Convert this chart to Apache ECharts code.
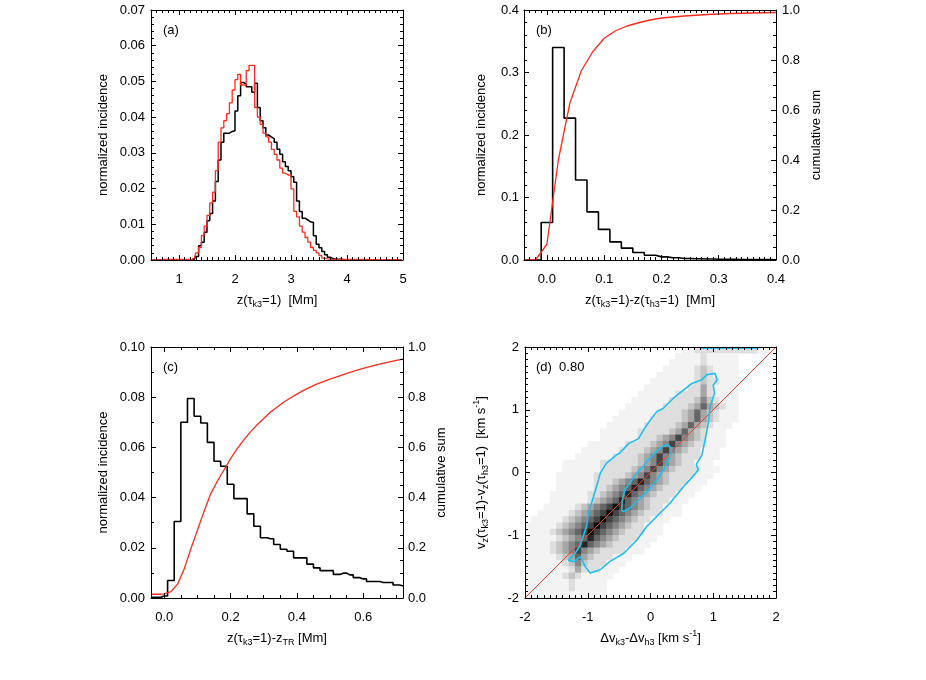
<!DOCTYPE html>
<html>
<head>
<meta charset="utf-8">
<script src="https://cdn.jsdelivr.net/npm/echarts@6/dist/echarts.min.js"></script>
<style>
  html, body { margin: 0; padding: 0; background: #fff; }
  #chart { width: 926px; height: 680px; }
</style>
</head>
<body>
<div id="chart"></div>
<script>
// ---- (a) histograms of z(tau_k3=1), bins of 0.05 Mm starting at 0.5 ----
var aStart = 0.5, aWidth = 0.05;
var aBlack = [
  0, 0, 0, 0, 0, 0, 0, 0, 0, 0, 0, 0, 0, 0, 0,
  0.0002, 0.001, 0.004, 0.005, 0.0078, 0.011, 0.013, 0.0165, 0.022, 0.028,
  0.033, 0.0355, 0.0355, 0.036, 0.0362, 0.0417, 0.046, 0.0497, 0.0493, 0.0485,
  0.0485, 0.047, 0.0495, 0.0427, 0.039, 0.037, 0.035, 0.0345, 0.034, 0.033,
  0.031, 0.0296, 0.0275, 0.0262, 0.025, 0.0233, 0.0218, 0.0165, 0.0136, 0.0117,
  0.0112, 0.0107, 0.0105, 0.0068, 0.0044, 0.0034, 0.0024, 0.0015, 0.0008, 0.0004,
  0.0002, 0.0002, 0.0002, 0.0001, 0.0001, 0.0001, 0.0001, 0.0001, 0.0001,
  0, 0, 0, 0, 0, 0, 0, 0, 0, 0, 0, 0, 0, 0, 0, 0
];
var aRed = [
  0, 0, 0, 0,
  0.0002, 0.0002, 0.0002, 0.0002, 0.0002, 0.0002, 0.0002, 0.0002, 0.0002, 0.0002, 0.0002,
  0.0005, 0.002, 0.0035, 0.0068, 0.0095, 0.0125, 0.016, 0.019, 0.025, 0.033,
  0.037, 0.039, 0.041, 0.044, 0.0476, 0.0505, 0.052, 0.049, 0.049, 0.053,
  0.0545, 0.0545, 0.0427, 0.040, 0.038, 0.0355, 0.0345, 0.033, 0.031, 0.0296,
  0.028, 0.0257, 0.0243, 0.0238, 0.0238, 0.0199, 0.0136, 0.0121, 0.0095, 0.0078,
  0.0063, 0.005, 0.0035, 0.0027, 0.002, 0.0012, 0.0005, 0.0003,
  0.0002, 0.0002, 0.0002, 0.0002, 0.0002, 0.0002, 0.0002, 0.0002, 0.0002, 0.0002,
  0.0002, 0.0002, 0.0002, 0.0002, 0.0002,
  0.0001, 0.0001, 0.0001, 0.0001, 0.0001, 0.0001, 0.0001, 0.0001, 0.0001, 0.0001, 0.0001, 0.0001
];

// ---- (b) z(k3)-z(h3), bin centres every 0.02 Mm from -0.04 ----
var bStart = -0.04, bWidth = 0.02;
var bBlack = [0, 0, 0.060, 0.340, 0.227, 0.128, 0.077, 0.049, 0.029, 0.019, 0.012, 0.0075,
  0.005, 0.0035, 0.0025, 0.002, 0.0015, 0.0012, 0.001, 0.0008, 0.0007, 0.0006, 0.0005];
var bCum = [0, 0, 0.063, 0.40, 0.627, 0.757, 0.833, 0.887, 0.917, 0.936, 0.949, 0.96,
  0.968, 0.972, 0.976, 0.979, 0.982, 0.984, 0.986, 0.987, 0.988, 0.989, 0.99];

// ---- (c) z(k3)-z_TR, bin centres every 0.02 Mm from -0.04 ----
var cStart = -0.04, cWidth = 0.02;
var cBlack = [0.0003, 0.0003, 0.0008, 0.007, 0.0305, 0.070, 0.0795, 0.0724, 0.0697, 0.062,
  0.0545, 0.0525, 0.0453, 0.0396, 0.0396, 0.0335, 0.0286, 0.024, 0.0236, 0.0213,
  0.0194, 0.0186, 0.016, 0.016, 0.0135, 0.012, 0.0109, 0.0109, 0.0094, 0.0099,
  0.0092, 0.0081, 0.0076, 0.0066, 0.0066, 0.0062, 0.0062, 0.0052, 0.0048];
var cCum = [0.015, 0.015, 0.016, 0.025, 0.055, 0.115, 0.195, 0.27, 0.345, 0.415,
  0.465, 0.51, 0.555, 0.595, 0.63, 0.662, 0.69, 0.715, 0.74, 0.76,
  0.78, 0.797, 0.812, 0.827, 0.84, 0.852, 0.862, 0.872, 0.881, 0.89,
  0.899, 0.907, 0.915, 0.922, 0.929, 0.935, 0.941, 0.947, 0.952];

// ---- (d) 2D histogram, 40x40 cells of 0.1 km/s, grey level 0..9, top row first ----
var dHeat = [
  "0000000000000000000000000112222222222110",
  "0000000000000000000000001111211111000000",
  "0000000000000000000000011111211111000000",
  "0000000000000000000000111112321111000000",
  "0000000000000000000001111112321111000000",
  "0000000000000000000011111112322111000000",
  "0000000000000000000111111122421111000000",
  "0000000000000000001111112222421111000000",
  "0000000000000000011111122223532111000000",
  "0000000000000000111111222234643211000000",
  "0000000000000001111112222346432111000000",
  "0000000000000011111122222346432111000000",
  "0000000000000111111222223464321110000000",
  "0000000000001111112222234643211100000000",
  "0000000000001111112223457543211100000000",
  "0000000000111111222234575432211100000000",
  "0000000001111112222345754322111000000000",
  "0000000011111122223457543222111000000000",
  "0000001111112222223457543221110000000000",
  "0000001111112222234575432222111000000000",
  "0000011111122222345754322221110000000000",
  "0000011111122234568654322211100000000000",
  "0000011111122345686543222111000000000000",
  "0000111111223456865432221110000000000000",
  "0000111111234568654322211100000000000000",
  "0001111123456797654322111000000000000000",
  "0011111234567976543222111000000000000000",
  "0111112345679765432211100000000000000000",
  "1111123456797654322111000000000000000000",
  "1111234567976543222111000000000000000000",
  "1111123456865432221110000000000000000000",
  "1111234568654322211100000000000000000000",
  "1111234575432222111000000000000000000000",
  "1111123464322211100000000000000000000000",
  "1111112353222111000000000000000000000000",
  "1111111242221110000000000000000000000000",
  "1111112321111100000000000000000000000000",
  "1111111211111000000000000000000000000000",
  "1111111211111000000000000000000000000000",
  "1111111111111000000000000000000000000000"
];
var dOuter = [[0.66, 1.42], [0.82, 1.48], [0.9, 1.56], [1.03, 1.58], [1.06, 1.47], [1.0, 1.39],
  [1.02, 1.26], [0.95, 1.05], [0.92, 0.78], [0.87, 0.52], [0.82, 0.28], [0.73, 0.13],
  [0.76, 0.04], [0.67, -0.07], [0.52, -0.23], [0.31, -0.49], [0.15, -0.65], [-0.06, -0.86],
  [-0.22, -1.08], [-0.43, -1.29], [-0.65, -1.42], [-0.8, -1.55], [-0.96, -1.6], [-1.04, -1.5],
  [-1.12, -1.34], [-1.22, -1.42], [-1.31, -1.4], [-1.2, -1.29], [-1.12, -1.16], [-1.02, -0.86],
  [-0.99, -0.65], [-0.91, -0.39], [-0.83, -0.12], [-0.8, -0.01], [-0.7, 0.15], [-0.54, 0.28],
  [-0.49, 0.31], [-0.35, 0.46], [-0.19, 0.54], [-0.11, 0.68], [0.0, 0.84], [0.1, 0.97],
  [0.2, 1.02], [0.36, 1.18], [0.52, 1.31], [0.66, 1.42]];
var dInner = [[-0.46, -0.61], [-0.45, -0.45], [-0.41, -0.28], [-0.32, -0.15], [-0.22, -0.01],
  [-0.1, 0.12], [-0.01, 0.23], [0.1, 0.34], [0.18, 0.41], [0.28, 0.44], [0.34, 0.38],
  [0.31, 0.25], [0.22, 0.06], [0.1, -0.12], [-0.01, -0.26], [-0.11, -0.36], [-0.22, -0.47],
  [-0.33, -0.57], [-0.43, -0.62], [-0.46, -0.61]];
var dTopEdge = [[0.79, 1.985], [1.72, 1.985]];
var dDiagonal = [[-2, -2], [2, 2]];
var dCorr = "0.80";

// ---- tick labels ----
var aXTicks = [1, 2, 3, 4, 5];
var aYTicks = [0, 0.01, 0.02, 0.03, 0.04, 0.05, 0.06, 0.07];
var bXTicks = [0, 0.1, 0.2, 0.3, 0.4];
var bYTicks = [0, 0.1, 0.2, 0.3, 0.4];
var cXTicks = [0, 0.2, 0.4, 0.6];
var cYTicks = [0, 0.02, 0.04, 0.06, 0.08, 0.10];
var cumTicks = [0, 0.2, 0.4, 0.6, 0.8, 1.0];
var dTicks = [-2, -1, 0, 1, 2];

var FONT = '"Liberation Sans", Arial, Helvetica, sans-serif';
var RED = '#ff2a1a';
var CYAN = '#22bfee';
var GRAYS = ['#ffffff', '#f3f3f3', '#dedede', '#c4c4c4', '#a6a6a6', '#878787', '#666666', '#444444', '#262626', '#0a0a0a'];

var RICH = {
  n: { fontFamily: FONT, fontSize: 13, color: '#000', lineHeight: 18, verticalAlign: 'middle' },
  s: { fontFamily: FONT, fontSize: 9, color: '#000', lineHeight: 9, verticalAlign: 'bottom' },
  p: { fontFamily: FONT, fontSize: 9, color: '#000', lineHeight: 9, verticalAlign: 'top' }
};

function seq(a, b, step) {
  var out = [], n = Math.round((b - a) / step);
  for (var i = 0; i <= n; i++) out.push(+(a + i * step).toFixed(6));
  return out;
}
function minorsOf(a, b, step, majors) {
  return seq(a, b, step).filter(function (v) {
    return majors.every(function (m) { return Math.abs(m - v) > step / 10; });
  });
}
function pairs(start, width, values) {
  return values.map(function (v, i) { return [+(start + i * width).toFixed(5), v]; });
}
function f0(v) { return String(v); }
function f1(v) { return v.toFixed(1); }
function f2(v) { return v.toFixed(2); }

var xAxes = [], yAxes = [];

// main axis (line + major ticks + optional labels/name) and a companion axis with minor ticks
function addAxis(list, grid, pos, spec, o) {
  o = o || {};
  var main = {
    type: 'value', gridIndex: grid, position: pos, min: spec.min, max: spec.max, z: 5,
    axisLine: { show: true, onZero: false, lineStyle: { color: '#000', width: 1 } },
    axisTick: { show: true, inside: true, length: 5, customValues: spec.majors, lineStyle: { color: '#000', width: 1 } },
    axisLabel: o.labels ? {
      show: true, customValues: spec.majors, formatter: spec.fmt, margin: o.margin,
      color: '#000', fontFamily: FONT, fontSize: 13, hideOverlap: false
    } : { show: false },
    splitLine: { show: false }
  };
  if (o.name) {
    main.name = o.name;
    main.nameLocation = 'middle';
    main.nameGap = o.gap;
    if (o.rotate != null) main.nameRotate = o.rotate;
    main.nameTextStyle = { fontFamily: FONT, fontSize: 13, color: '#000', rich: RICH };
  }
  list.push(main);
  var idx = list.length - 1;
  list.push({
    type: 'value', gridIndex: grid, position: pos, min: spec.min, max: spec.max, z: 5,
    axisLine: { show: false, onZero: false },
    axisTick: { show: true, inside: true, length: 3, customValues: spec.minors, lineStyle: { color: '#000', width: 1 } },
    axisLabel: { show: false },
    splitLine: { show: false }
  });
  return idx;
}

// axis specs
var aX = { min: 0.5, max: 5, majors: aXTicks, minors: minorsOf(0.5, 5, 0.1, aXTicks), fmt: f0 };
var aY = { min: 0, max: 0.07, majors: aYTicks, minors: minorsOf(0, 0.07, 0.002, aYTicks), fmt: f2 };
var bX = { min: -0.04, max: 0.4, majors: bXTicks, minors: minorsOf(-0.04, 0.4, 0.01, bXTicks), fmt: f1 };
var bY = { min: 0, max: 0.4, majors: bYTicks, minors: minorsOf(0, 0.4, 0.02, bYTicks), fmt: f1 };
var cumY = { min: 0, max: 1, majors: cumTicks, minors: minorsOf(0, 1, 0.05, cumTicks), fmt: f1 };
var cX = { min: -0.04, max: 0.72, majors: cXTicks, minors: minorsOf(0, 0.7, 0.05, cXTicks), fmt: f1 };
var cY = { min: 0, max: 0.10, majors: cYTicks, minors: minorsOf(0, 0.10, 0.01, cYTicks), fmt: f2 };
var dS = { min: -2, max: 2, majors: dTicks, minors: minorsOf(-2, 2, 0.1, dTicks), fmt: f0 };

var nInc = '{n|normalized incidence}';
var nCum = '{n|cumulative sum}';

// (a)
var axA = addAxis(xAxes, 0, 'bottom', aX, { labels: true, margin: 13, name: '{n|z(τ}{s|k3}{n|=1)  [Mm]}', gap: 31 });
addAxis(xAxes, 0, 'top', aX);
var ayA = addAxis(yAxes, 0, 'left', aY, { labels: true, margin: 6, name: nInc, gap: 39, rotate: 90 });
addAxis(yAxes, 0, 'right', aY);
// (b)
var axB = addAxis(xAxes, 1, 'bottom', bX, { labels: true, margin: 13, name: '{n|z(τ}{s|k3}{n|=1)-z(τ}{s|h3}{n|=1)  [Mm]}', gap: 31 });
addAxis(xAxes, 1, 'top', bX);
var ayB = addAxis(yAxes, 1, 'left', bY, { labels: true, margin: 5, name: nInc, gap: 34, rotate: 90 });
var ayB2 = addAxis(yAxes, 1, 'right', cumY, { labels: true, margin: 6, name: nCum, gap: 31, rotate: 90 });
// (c)
var axC = addAxis(xAxes, 2, 'bottom', cX, { labels: true, margin: 13, name: '{n|z(τ}{s|k3}{n|=1)-z}{s|TR}{n| [Mm]}', gap: 31 });
addAxis(xAxes, 2, 'top', cX);
var ayC = addAxis(yAxes, 2, 'left', cY, { labels: true, margin: 6, name: nInc, gap: 39, rotate: 90 });
var ayC2 = addAxis(yAxes, 2, 'right', cumY, { labels: true, margin: 5, name: nCum, gap: 29, rotate: 90 });
// (d)
var axD = addAxis(xAxes, 3, 'bottom', dS, { labels: true, margin: 13, name: '{n|Δv}{s|k3}{n|-Δv}{s|h3}{n| [km s}{p|-1}{n|]}', gap: 31 });
addAxis(xAxes, 3, 'top', dS);
var ayD = addAxis(yAxes, 3, 'left', dS, { labels: true, margin: 6, name: '{n|v}{s|z}{n|(τ}{s|k3}{n|=1)-v}{s|z}{n|(τ}{s|h3}{n|=1)  [km s}{p|-1}{n|]}', gap: 35, rotate: 90 });
addAxis(yAxes, 3, 'right', dS);
// hidden category axes carrying the 2D histogram of (d)
var cells = dHeat[0].length, rows = dHeat.length;
var cats = [];
for (var k = 0; k < cells; k++) cats.push(String(k));
xAxes.push({ type: 'category', gridIndex: 4, data: cats, show: false });
var hx = xAxes.length - 1;
yAxes.push({ type: 'category', gridIndex: 4, data: cats.slice(0, rows), show: false });
var hy = yAxes.length - 1;

var heatData = [];
dHeat.forEach(function (row, j) {
  for (var i = 0; i < row.length; i++) {
    var v = +row[i];
    if (v > 0) heatData.push([i, rows - 1 - j, v]);
  }
});

function hist(xi, yi, start, width, vals, color, w) {
  return {
    type: 'line', xAxisIndex: xi, yAxisIndex: yi, step: 'middle', symbol: 'none', z: 3,
    data: pairs(start, width, vals), lineStyle: { color: color, width: w }, silent: true
  };
}
function curve(xi, yi, data, color, w, z) {
  return {
    type: 'line', xAxisIndex: xi, yAxisIndex: yi, symbol: 'none', z: z || 3,
    data: data, lineStyle: { color: color, width: w }, silent: true
  };
}

var series = [
  hist(axA, ayA, aStart + aWidth / 2, aWidth, aBlack, '#000', 1.5),
  hist(axA, ayA, aStart + aWidth / 2, aWidth, aRed, RED, 1.3),
  hist(axB, ayB, bStart, bWidth, bBlack, '#000', 1.6),
  curve(axB, ayB2, pairs(bStart, bWidth, bCum), RED, 1.3),
  hist(axC, ayC, cStart, cWidth, cBlack, '#000', 1.6),
  curve(axC, ayC2, pairs(cStart, cWidth, cCum), RED, 1.3),
  {
    type: 'heatmap', xAxisIndex: hx, yAxisIndex: hy, data: heatData, z: 1, silent: true,
    itemStyle: { borderWidth: 0 }, emphasis: { disabled: true }
  },
  curve(axD, ayD, dDiagonal, '#e8402e', 1, 3),
  curve(axD, ayD, dOuter, CYAN, 1.6, 4),
  curve(axD, ayD, dInner, CYAN, 1.6, 4),
  curve(axD, ayD, dTopEdge, CYAN, 2, 4)
];

function tag(x, y, text) {
  return { type: 'text', left: x, top: y, z: 10, style: { text: text, fontFamily: FONT, fontSize: 13, fill: '#000' } };
}

var chart = echarts.init(document.getElementById('chart'), null, { renderer: 'canvas' });
chart.setOption({
  animation: false,
  backgroundColor: '#fff',
  textStyle: { fontFamily: FONT },
  grid: [
    { left: 151, top: 10, width: 252, height: 250, outerBoundsMode: 'none' },
    { left: 524, top: 10, width: 252, height: 250, outerBoundsMode: 'none' },
    { left: 151, top: 347, width: 252, height: 251, outerBoundsMode: 'none' },
    { left: 525, top: 347, width: 251, height: 251, outerBoundsMode: 'none' },
    { left: 525, top: 347, width: 251, height: 251, outerBoundsMode: 'none' }
  ],
  xAxis: xAxes,
  yAxis: yAxes,
  visualMap: {
    type: 'continuous', show: false, seriesIndex: 6, min: 0, max: 9, dimension: 2,
    inRange: { color: GRAYS }
  },
  graphic: [
    tag(163, 24, '(a)'),
    tag(536, 24, '(b)'),
    tag(163, 361, '(c)'),
    tag(536, 361, '(d)  ' + dCorr)
  ],
  series: series
});
</script>
</body>
</html>
